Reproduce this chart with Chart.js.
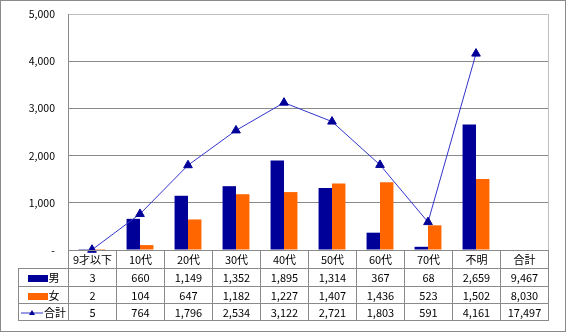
<!DOCTYPE html>
<html>
<head>
<meta charset="utf-8">
<script src="https://cdn.jsdelivr.net/npm/chart.js@4"></script>
<style>
  body { margin: 0; background: #fff; font-family: "Noto Sans CJK JP", "Noto Sans", sans-serif; }
  #frame { position: absolute; left: 0; top: 0; width: 564px; height: 330px; border: 1px solid #8a8a8a; }
  #myChart { position: absolute; left: 0; top: 0; }
  #dataTable { position: absolute; left: 18px; top: 250px; border-collapse: collapse; table-layout: fixed; font-size: 11px; color: #000; }
  #dataTable td { border: 1px solid #8a8a8a; text-align: center; padding: 0; height: 16px; line-height: 16px; white-space: nowrap; overflow: hidden; }
  #dataTable tr.tall td { height: 17px; line-height: 17px; }
  #dataTable td.blank { border: none; }
  .key { display: inline-block; vertical-align: 0; margin-right: 1px; }
</style>
</head>
<body>
<div id="frame"></div>
<canvas id="myChart" width="568" height="334"></canvas>
<table id="dataTable"></table>
<script>
const categories = ['9才以下', '10代', '20代', '30代', '40代', '50代', '60代', '70代', '不明', '合計'];
const maleValues = [3, 660, 1149, 1352, 1895, 1314, 367, 68, 2659, 9467];
const femaleValues = [2, 104, 647, 1182, 1227, 1407, 1436, 523, 1502, 8030];
const totalValues = [5, 764, 1796, 2534, 3122, 2721, 1803, 591, 4161, 17497];
const seriesNames = ['男', '女', '合計'];
const yTicks = [0, 1000, 2000, 3000, 4000, 5000];

const navy = '#000099';
const orange = '#FF6600';
const lineBlue = '#3333CC';

// the 合計 column only shows up in the table, not in the plot
function plotted(values) {
    return values.map(function (v, i) { return categories[i] === '合計' ? null : v; });
}

function fmt(v) {
    return v.toLocaleString('en-US');
}

var frameBorder = {
    id: 'frameBorder',
    afterDraw: function (chart) {
        var a = chart.chartArea, c = chart.ctx;
        c.save();
        c.strokeStyle = '#c0c0c0';
        c.lineWidth = 1;
        c.beginPath();
        c.moveTo(Math.round(a.right) + 0.5, a.top);
        c.lineTo(Math.round(a.right) + 0.5, a.bottom);
        c.stroke();
        c.restore();
    }
};

var chart = new Chart(document.getElementById('myChart').getContext('2d'), {
    data: {
        labels: categories,
        datasets: [
            { type: 'line', label: seriesNames[2], data: plotted(totalValues), borderColor: lineBlue, borderWidth: 1,
              pointStyle: 'triangle', pointRadius: 5, pointBackgroundColor: navy, pointBorderColor: navy,
              clip: false, order: 0 },
            { type: 'bar', label: seriesNames[0], data: plotted(maleValues), backgroundColor: navy,
              categoryPercentage: 0.56, barPercentage: 1, order: 1 },
            { type: 'bar', label: seriesNames[1], data: plotted(femaleValues), backgroundColor: orange,
              categoryPercentage: 0.56, barPercentage: 1, order: 1 }
        ]
    },
    options: {
        responsive: false,
        animation: false,
        layout: { padding: { top: 14, right: 20, bottom: 84, left: 0 } },
        plugins: { legend: { display: false }, tooltip: { enabled: false } },
        scales: {
            x: {
                display: false,
                offset: true,
                grid: { display: false }
            },
            y: {
                min: 0,
                max: 5000,
                afterBuildTicks: function (scale) { scale.ticks = yTicks.map(function (v) { return { value: v }; }); },
                afterFit: function (scale) {
                    scale.width = 68;
                    // don't let the tick labels push the plot area down
                    scale.paddingTop = 0;
                    scale.paddingBottom = 0;
                },
                grid: {
                    drawTicks: false,
                    color: function (ctx) { return ctx.tick && ctx.tick.value === 5000 ? '#c0c0c0' : '#8a8a8a'; }
                },
                border: { color: '#8a8a8a' },
                ticks: {
                    padding: 13,
                    color: '#000',
                    font: { family: '"Noto Sans CJK JP", sans-serif', size: 10.5 },
                    callback: function (v) { return v === 0 ? '-' : fmt(v); }
                }
            }
        }
    },
    plugins: [frameBorder]
});

// data table under the plot
function keySwatch(i) {
    if (i === 2) {
        return '<svg class="key" width="22" height="9"><line x1="0" y1="5" x2="22" y2="5" stroke="' + lineBlue +
            '" stroke-width="1"/><polygon points="11,2 14,7 8,7" fill="' + navy + '"/></svg>';
    }
    var col = i === 0 ? navy : orange;
    return '<span class="key" style="width:20px;height:7px;background:' + col + '"></span>';
}

var rows = [maleValues, femaleValues, totalValues];
var html = '<colgroup><col style="width:50px">';
categories.forEach(function () { html += '<col style="width:48px">'; });
html += '</colgroup><tr class="tall"><td class="blank"></td>';
categories.forEach(function (c) { html += '<td>' + c + '</td>'; });
html += '</tr>';
rows.forEach(function (vals, i) {
    html += '<tr' + (i === 0 ? ' class="tall"' : '') + '><td>' + keySwatch(i) + '<span>' + seriesNames[i] + '</span></td>';
    vals.forEach(function (v) { html += '<td>' + fmt(v) + '</td>'; });
    html += '</tr>';
});
document.getElementById('dataTable').innerHTML = html;
</script>
</body>
</html>
